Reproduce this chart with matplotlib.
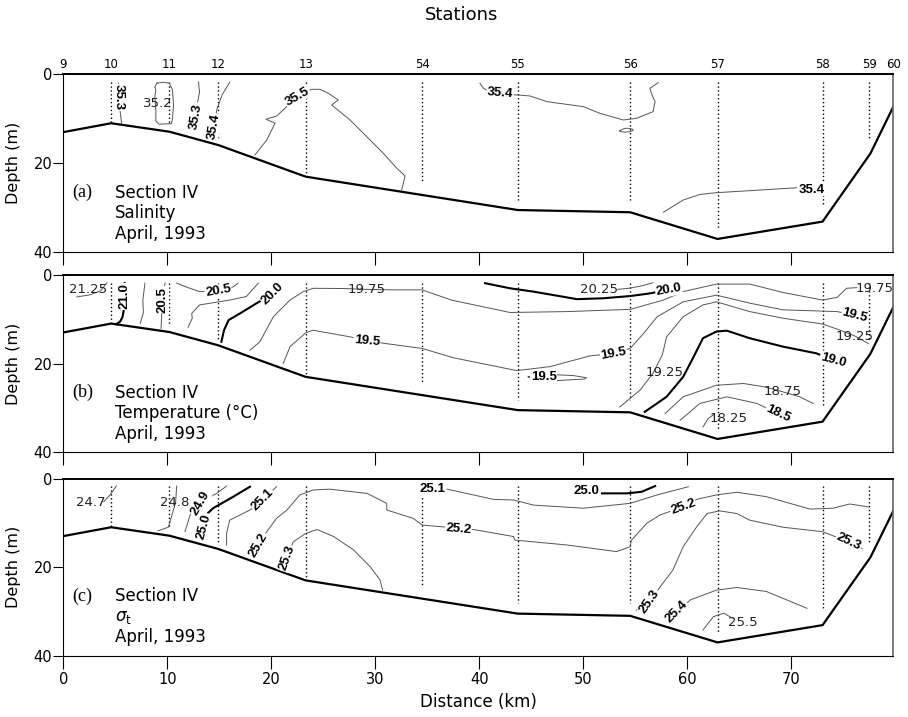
import matplotlib
matplotlib.use('Agg')
import matplotlib.pyplot as plt

# stations along the section (km from station 9)
st_names = ['9', '10', '11', '12', '13', '54', '55', '56', '57', '58', '59', '60']
st_km = [0, 4.6, 10.2, 14.9, 23.3, 34.5, 43.7, 54.5, 62.9, 73.0, 77.5, 79.8]
# casts (dotted) for stations 10..59: top and bottom depth
cast_km = [4.6, 10.2, 14.9, 23.3, 34.5, 43.7, 54.5, 62.9, 73.0, 77.5]
cast_bot = [10.7, 11.1, 14.6, 22.4, 24.4, 28.2, 28.2, 34.8, 29.4, 14.5]
cast_top = 1.8

# bottom profile
bot_km = [0, 4.6, 10.2, 14.9, 23.3, 43.7, 54.5, 62.9, 73.0, 77.6, 79.8]
bot_d = [13.0, 11.0, 12.9, 15.9, 23.0, 30.5, 31.0, 37.0, 33.1, 17.8, 7.3]

# ---- (a) salinity: lines (km, depth, thick) and labels (text, km, depth, angle, bold)
sal_lines = [
    ([5.3, 5.35, 5.45, 5.6], [2.0, 4.0, 8.0, 11.0], False),
    ([9.0, 9.6, 10.2, 10.5, 10.6, 10.5, 10.4, 9.2, 8.9, 8.9, 8.8, 8.9, 8.8, 9.0],
     [2.0, 1.8, 2.0, 3.5, 7.0, 10.0, 11.1, 11.2, 10.5, 8.0, 5.0, 3.5, 2.8, 2.0], False),
    ([13.0, 13.1, 12.9, 12.6], [1.7, 4.0, 6.5, 12.0], False),
    ([16.0, 15.3, 14.8, 14.6, 14.35, 14.2], [1.8, 4.5, 7.6, 10.0, 12.5, 14.4], False),
    ([18.43, 19.56, 20.36, 19.49, 20.52, 21.48, 21.96, 22.44, 23.88, 24.68, 25.48, 26.44,
      25.8, 27.57, 29.17, 30.77, 32.06, 32.86, 32.54],
     [18.13, 14.76, 11.0, 10.1, 9.37, 7.27, 6.15, 5.03, 3.38, 3.38, 4.27, 5.78,
      6.9, 10.27, 14.0, 17.75, 21.1, 22.85, 26.0], False),
    ([40.06, 40.4, 41.0, 42.0, 43.0, 43.75, 44.86, 46.5, 50.0, 51.6, 53.85, 55.1, 56.7,
      56.9, 56.6, 56.4, 57.2],
     [2.03, 3.15, 3.9, 4.3, 4.6, 4.65, 4.87, 6.15, 7.27, 8.77, 10.27, 9.9, 8.4,
      6.15, 4.65, 3.15, 1.88], False),
    ([53.5, 53.8, 54.2, 54.7, 54.8, 54.5, 54.0, 53.6, 53.5],
     [12.7, 12.3, 12.1, 12.3, 12.6, 12.9, 13.0, 12.9, 12.7], False),
    ([57.7, 59.6, 61.2, 62.8, 66.0, 70.5], [31.0, 28.25, 27.0, 26.6, 26.15, 25.5], False),
]
sal_labels = [
    ('35.3', 5.35, 5.2, -90, True),
    ('35.2', 9.1, 6.5, 0, False),
    ('35.3', 12.75, 9.4, 80, True),
    ('35.4', 14.45, 11.8, 80, True),
    ('35.5', 22.5, 5.0, 30, True),
    ('35.4', 42.0, 4.3, -5, True),
    ('35.4', 72.0, 25.9, 0, True),
]

# ---- (b) temperature
tem_lines = [
    ([1.3, 2.6, 3.6, 4.2], [5.0, 4.5, 3.6, 1.8], False),
    ([5.9, 5.85, 5.85, 5.7, 5.45, 5.1], [1.9, 5.0, 7.4, 9.5, 10.6, 11.1], True),
    ([7.85, 7.65, 7.7, 7.4], [1.9, 5.7, 8.5, 10.95], False),
    ([9.8, 9.6, 9.5, 9.45, 9.4], [1.9, 3.5, 6.0, 9.45, 12.1], False),
    ([10.9, 12.0, 13.1, 14.9, 16.35, 16.8], [1.9, 2.9, 3.8, 3.8, 2.7, 1.9], False),
    ([18.75, 17.6, 16.0, 13.1, 12.35, 12.4, 12.0], [1.9, 4.9, 5.7, 6.8, 8.7, 9.8, 11.85], False),
    ([15.2, 15.45, 15.9, 17.0, 18.6, 20.2, 20.8], [15.1, 12.5, 10.2, 8.7, 6.4, 4.2, 2.1], True),
    ([17.95, 18.9, 20.2, 21.8, 23.07, 24.04, 27.0, 29.2, 31.5, 34.5, 37.3, 42.95, 48.4,
      54.5, 57.7, 59.6, 62.8, 66.0, 69.2, 73.0, 74.4, 75.3, 76.3],
     [17.0, 15.1, 9.45, 5.7, 3.8, 3.05, 3.1, 3.3, 3.4, 3.4, 5.7, 8.5, 8.3,
      7.8, 5.7, 3.8, 2.1, 2.1, 4.0, 5.7, 5.1, 3.05, 2.9], False),
    ([21.15, 21.8, 23.3, 24.0, 27.6, 29.2, 31.0, 34.5, 37.5, 43.6, 46.8, 50.6, 52.9, 54.5,
      55.8, 57.1, 59.6, 62.8, 66.0, 69.2, 74.4, 76.1],
     [20.0, 16.2, 13.1, 12.5, 14.0, 14.9, 15.5, 16.6, 18.7, 21.6, 20.7, 18.3, 17.7, 16.6,
      13.2, 9.45, 6.1, 4.6, 6.4, 7.9, 8.3, 9.1], False),
    ([53.5, 55.45, 56.7, 57.6, 58.0, 59.6, 61.5, 62.8, 66.0, 69.2, 73.0, 74.7, 76.1, 77.4],
     [29.8, 26.0, 22.2, 18.0, 14.0, 9.45, 6.8, 6.1, 8.3, 9.8, 11.1, 12.5, 13.8, 15.5], False),
    ([55.9, 58.0, 59.6, 60.6, 61.5, 62.8, 63.8, 66.0, 69.2, 72.4, 74.0],
     [30.9, 27.5, 23.0, 18.5, 14.3, 12.8, 12.6, 14.3, 16.2, 17.7, 19.2], True),
    ([57.85, 59.6, 62.8, 65.4, 67.5, 69.2, 70.8, 72.1],
     [31.3, 27.5, 24.9, 24.5, 25.3, 26.4, 27.5, 29.0], False),
    ([59.3, 61.2, 63.8, 66.7, 68.7], [32.8, 29.0, 27.5, 29.0, 31.3], False),
    ([61.5, 62.0, 62.6], [34.3, 32.4, 31.4], False),
    ([40.55, 42.95, 45.2, 49.4, 51.9, 54.5, 56.4, 58.2], [1.9, 3.05, 3.8, 5.5, 5.3, 4.8, 4.2, 3.4], True),
    ([53.3, 54.5, 55.6, 56.7], [3.3, 3.0, 2.5, 1.8], False),
    ([44.7, 45.5, 47.0, 49.0, 50.3, 50.1, 48.5, 46.5, 45.3, 44.7],
     [23.0, 22.6, 22.5, 22.7, 23.2, 23.5, 23.7, 24.0, 23.8, 23.0], False),
]
tem_labels = [
    ('21.25', 2.4, 3.4, 0, False),
    ('21.0', 5.85, 4.9, 90, True),
    ('20.5', 9.55, 5.6, 90, True),
    ('20.5', 14.9, 3.7, 10, True),
    ('20.0', 20.1, 4.2, 45, True),
    ('19.75', 29.2, 3.3, 0, False),
    ('19.5', 29.2, 14.9, -5, True),
    ('20.25', 51.5, 3.3, 0, False),
    ('20.0', 58.2, 3.4, 10, True),
    ('19.5', 46.2, 23.0, 0, True),
    ('19.5', 52.9, 17.7, 10, True),
    ('19.25', 57.85, 22.1, 0, False),
    ('19.75', 78.0, 3.2, 0, False),
    ('19.5', 76.1, 9.1, -15, True),
    ('19.25', 76.1, 13.8, 0, False),
    ('19.0', 74.0, 19.2, -15, True),
    ('18.75', 69.2, 26.4, 0, False),
    ('18.5', 68.7, 31.3, -25, True),
    ('18.25', 64.0, 32.4, 0, False),
]

# ---- (c) sigma-t
sig_lines = [
    ([3.9, 4.5, 5.1], [5.2, 3.7, 1.7], False),
    ([10.9, 10.8, 10.4, 10.1, 9.1], [1.7, 5.4, 8.6, 11.0, 11.8], False),
    ([15.7, 14.75, 13.8, 13.15, 12.5, 12.2, 11.7], [1.7, 3.35, 4.5, 5.6, 7.0, 8.2, 12.0], False),
    ([17.95, 16.35, 14.4, 13.6, 13.45, 13.4], [1.85, 4.1, 6.7, 8.5, 10.9, 13.5], True),
    ([20.5, 19.6, 19.2, 17.95, 16.0, 15.7, 15.7], [1.85, 3.9, 4.85, 7.1, 9.4, 12.4, 15.0], False),
    ([18.4, 18.75, 19.56, 20.5, 21.5, 22.75, 24.0, 25.6, 29.2, 31.1, 31.1, 33.65, 34.5, 36.9,
      38.0, 39.4, 43.3, 43.4, 48.4, 53.2, 54.5, 54.6, 56.1, 57.4, 59.6, 60.9, 62.8, 64.75,
      67.6, 71.8, 74.0, 75.6, 77.4],
     [17.0, 15.0, 12.0, 9.0, 7.1, 3.7, 2.6, 2.4, 3.35, 5.6, 7.1, 9.0, 10.5, 11.0,
      11.5, 11.5, 13.1, 13.9, 15.0, 16.5, 15.4, 14.0, 10.1, 8.2, 6.4, 4.7, 3.7, 3.1,
      4.1, 6.9, 6.7, 5.75, 6.4], False),
    ([36.9, 37.5, 41.35, 43.3, 45.2, 50.0, 54.5, 57.1, 60.1],
     [2.4, 2.7, 4.7, 4.85, 6.0, 6.7, 5.6, 3.7, 1.85], False),
    ([51.8, 54.2, 55.6, 56.9], [3.35, 3.35, 3.0, 1.7], True),
    ([21.0, 21.5, 22.1, 23.3, 24.4, 26.0, 27.9, 29.5, 30.45, 30.7],
     [20.0, 18.0, 14.3, 12.4, 11.5, 13.1, 16.1, 19.9, 22.9, 25.2], False),
    ([55.1, 56.4, 57.4, 58.6, 59.6, 60.9, 61.9, 63.1, 64.75, 66.0, 69.2, 73.0, 75.5, 76.8],
     [29.7, 27.8, 24.4, 20.7, 15.4, 10.9, 7.9, 7.3, 7.9, 9.4, 11.0, 12.0, 14.3, 15.8], False),
    ([58.3, 59.0, 60.3, 62.8, 64.75, 67.6, 71.5], [31.8, 30.1, 27.4, 25.2, 24.6, 25.5, 29.3], False),
    ([61.5, 62.5, 63.5, 64.4], [34.2, 31.2, 30.4, 31.6], False),
]
sig_labels = [
    ('24.7', 2.6, 5.45, 0, False),
    ('24.8', 10.75, 5.45, 0, False),
    ('24.9', 13.15, 5.6, 60, True),
    ('25.0', 13.5, 10.8, 75, True),
    ('25.1', 19.2, 4.85, 45, True),
    ('25.2', 18.75, 15.0, 60, True),
    ('25.3', 21.5, 18.0, 70, True),
    ('25.1', 35.45, 2.4, 0, True),
    ('25.2', 38.0, 11.4, -5, True),
    ('25.0', 50.3, 2.75, 0, True),
    ('25.2', 59.6, 6.4, 20, True),
    ('25.3', 56.4, 27.8, 55, True),
    ('25.4', 59.0, 30.1, 45, True),
    ('25.5', 65.3, 32.5, 0, False),
    ('25.3', 75.5, 14.3, -25, True),
]

panel_text = [
    ('(a)', ['Section IV', 'Salinity', 'April, 1993']),
    ('(b)', ['Section IV', 'Temperature (\u00b0C)', 'April, 1993']),
    ('(c)', ['Section IV', r'$\sigma_{\rm t}$', 'April, 1993']),
]
panels = [(sal_lines, sal_labels), (tem_lines, tem_labels), (sig_lines, sig_labels)]

plt.rcParams['mathtext.fontset'] = 'dejavusans'
BOLD = ['Liberation Sans', 'DejaVu Sans']

fig = plt.figure(figsize=(9.08, 7.17), dpi=100)
boxes = [[0.0697, 0.6481, 0.9141, 0.2483],
         [0.0697, 0.3692, 0.9141, 0.2476],
         [0.0697, 0.0855, 0.9141, 0.2471]]

for i, (lines, labels) in enumerate(panels):
    ax = fig.add_axes(boxes[i])
    ax.set_xlim(0, 79.8)
    ax.set_ylim(40, 0)
    # station casts
    for km, b in zip(cast_km, cast_bot):
        ax.plot([km, km], [cast_top, b], color='k', lw=1.0, ls=(0, (1, 1.8)))
    # isolines
    for xs, ds, thick in lines:
        if thick:
            ax.plot(xs, ds, color='k', lw=1.5)
        else:
            ax.plot(xs, ds, color='#555555', lw=0.7)
    for txt, km, d, ang, bold in labels:
        if bold:
            ax.text(km, d, txt, rotation=ang, ha='center', va='center', fontsize=9.5,
                    family=BOLD, fontweight='bold', rotation_mode='anchor',
                    bbox=dict(boxstyle='square,pad=0.05', fc='white', ec='none'))
        else:
            ax.text(km, d, txt, rotation=ang, ha='center', va='center', fontsize=9.5,
                    color='#222222', rotation_mode='anchor')
    # bottom
    ax.plot(bot_km, bot_d, color='k', lw=1.6, solid_joinstyle='miter')

    tag, rows = panel_text[i]
    ax.text(0.9, 26.6, tag, family='Liberation Serif', fontsize=13, ha='left', va='center')
    for j, r in enumerate(rows):
        ax.text(5.0, 26.6 + 4.6 * j, r, fontsize=12, ha='left', va='center')

    ax.set_yticks([0, 20, 40])
    ax.set_xticks(range(0, 80, 10))
    ax.tick_params(axis='y', direction='out', length=7, width=0.8, labelsize=10.5, pad=1)
    ax.tick_params(axis='x', direction='out', length=9, width=0.8, labelsize=10.5, pad=3)
    if i < 2:
        ax.set_xticklabels([])
    ax.spines['top'].set_linewidth(1.4)
    ax.spines['right'].set_color('#666666')
    ax.spines['right'].set_linewidth(1.2)
    ax.text(-0.06, 0.5, 'Depth (m)', transform=ax.transAxes, rotation=90,
            ha='center', va='center', fontsize=11.5)
    if i == 0:
        for name, km in zip(st_names, st_km):
            ax.annotate(name, xy=(km, 0), xytext=(0, 2.5), textcoords='offset points',
                        ha='center', va='bottom', fontsize=8.5)
    if i == 2:
        ax.set_xlabel('Distance (km)', fontsize=12, labelpad=4)

fig.text(0.508, 0.979, 'Stations', ha='center', va='center', fontsize=13)
fig.savefig('out.png', dpi=100)
